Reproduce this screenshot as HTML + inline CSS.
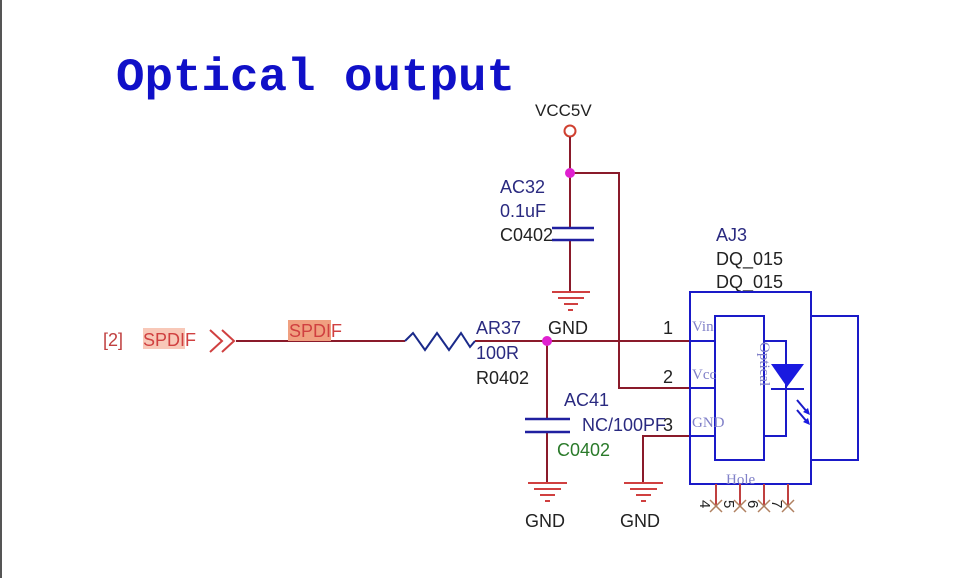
<!DOCTYPE html>
<html><head><meta charset="utf-8"><style>
html,body{margin:0;padding:0;background:#fff;}
svg{display:block;}
.s{font-family:"Liberation Sans",sans-serif;}
.m{font-family:"Liberation Mono",monospace;}
.r{font-family:"Liberation Serif",serif;}
</style></head><body>
<svg width="960" height="578" viewBox="0 0 960 578" xmlns="http://www.w3.org/2000/svg">
<rect width="960" height="578" fill="#fff"/>
<line x1="1" y1="0" x2="1" y2="578" stroke="#555" stroke-width="2"/>
<text class="m" x="116" y="90" font-weight="bold" font-size="46" fill="#1010c8" textLength="399" lengthAdjust="spacingAndGlyphs">Optical output</text>

<text class="s" x="535" y="116" font-size="17" fill="#222">VCC5V</text>
<circle cx="570" cy="131" r="5.5" fill="none" stroke="#d04030" stroke-width="2"/>
<g stroke="#8a1a2a" stroke-width="2" fill="none">
<line x1="570" y1="137" x2="570" y2="228"/>
<line x1="570" y1="240" x2="570" y2="292"/>
<polyline points="570,173 619,173 619,388 690,388"/>
<line x1="236" y1="341" x2="405" y2="341"/>
<line x1="475" y1="341" x2="690" y2="341"/>
<line x1="547" y1="341" x2="547" y2="419"/>
<line x1="547" y1="432" x2="547" y2="483"/>
<polyline points="690,436 643,436 643,483"/>
</g>
<g stroke="#d04040" stroke-width="2" fill="none">
<line x1="552" y1="292" x2="590" y2="292"/><line x1="558" y1="298" x2="584" y2="298"/><line x1="564" y1="304" x2="578" y2="304"/><line x1="568" y1="310" x2="573" y2="310"/>
<line x1="528" y1="483" x2="567" y2="483"/><line x1="534" y1="489" x2="561" y2="489"/><line x1="540" y1="495" x2="555" y2="495"/><line x1="545" y1="501" x2="550" y2="501"/>
<line x1="624" y1="483" x2="663" y2="483"/><line x1="630" y1="489" x2="657" y2="489"/><line x1="636" y1="495" x2="651" y2="495"/><line x1="641" y1="501" x2="646" y2="501"/>
<polyline points="210,330 222,341 210,352"/><polyline points="222,330 234,341 222,352"/>
</g>
<circle cx="570" cy="173" r="5" fill="#e020d0"/>
<circle cx="547" cy="341" r="5" fill="#e020d0"/>
<g stroke="#2020a0" stroke-width="2.5">
<line x1="552" y1="228" x2="594" y2="228"/><line x1="552" y1="240" x2="594" y2="240"/>
<line x1="525" y1="419" x2="570" y2="419"/><line x1="525" y1="432" x2="570" y2="432"/>
</g>
<polyline points="405,341 413,333 425,350 437,333 449,350 461,333 470,347 475,341" fill="none" stroke="#1a2a8a" stroke-width="2"/>

<g class="s" font-size="18">
<text x="500" y="193" fill="#2a2a80">AC32</text>
<text x="500" y="217" fill="#2a2a80">0.1uF</text>
<text x="500" y="241" fill="#222">C0402</text>
<text x="548" y="334" fill="#222">GND</text>
<text x="476" y="334" fill="#2a2a80">AR37</text>
<text x="476" y="359" fill="#2a2a80">100R</text>
<text x="476" y="384" fill="#222">R0402</text>
<text x="564" y="406" fill="#2a2a80">AC41</text>
<text x="582" y="431" fill="#2a2a80">NC/100PF</text>
<text x="557" y="456" fill="#2a7a2a">C0402</text>
<text x="525" y="527" fill="#222">GND</text>
<text x="620" y="527" fill="#222">GND</text>
<text x="716" y="241" fill="#2a2a80">AJ3</text>
<text x="716" y="265" fill="#222">DQ_015</text>
<text x="716" y="288" fill="#222">DQ_015</text>
<text x="663" y="334" fill="#222">1</text>
<text x="663" y="383" fill="#222">2</text>
<text x="663" y="431" fill="#222">3</text>
<text x="103" y="346" fill="#c04040">[2]</text>
<rect x="143" y="328" width="42" height="21" fill="#f8c8b8"/>
<text x="143" y="346" fill="#d04040">SPDIF</text>
<rect x="288" y="320" width="43" height="21" fill="#f0a080"/>
<text x="289" y="337" fill="#d04040">SPDIF</text>
</g>

<g stroke="#1a1ac8" stroke-width="2" fill="none">
<rect x="690" y="292" width="121" height="192"/>
<rect x="715" y="316" width="49" height="144"/>
<rect x="811" y="316" width="47" height="144"/>
<line x1="690" y1="341" x2="715" y2="341"/><line x1="690" y1="388" x2="715" y2="388"/><line x1="690" y1="436" x2="715" y2="436"/>
<polyline points="764,341 786,341 786,436 764,436"/>
<line x1="771" y1="389" x2="804" y2="389"/>
<line x1="797" y1="400" x2="808" y2="413"/><line x1="797" y1="410" x2="808" y2="423"/>
</g>
<polygon points="771,364 804,364 787,387" fill="#1a1ae0"/>
<polygon points="810,415 803,412 808,408" fill="#1a1ae0"/>
<polygon points="810,425 803,422 808,418" fill="#1a1ae0"/>
<g class="r" font-size="15" fill="#8080c8">
<text x="692" y="331">Vin</text><text x="692" y="379">Vcc</text><text x="692" y="427">GND</text>
<text x="726" y="484">Hole</text>
<text x="760" y="342" transform="rotate(90 760 342)">Optical</text>
</g>
<g stroke="#c04040" stroke-width="2">
<line x1="716" y1="484" x2="716" y2="505"/><line x1="740" y1="484" x2="740" y2="505"/><line x1="764" y1="484" x2="764" y2="505"/><line x1="788" y1="484" x2="788" y2="505"/>
</g>
<g stroke="#b08060" stroke-width="1.5">
<line x1="710" y1="500" x2="722" y2="512"/><line x1="722" y1="500" x2="710" y2="512"/>
<line x1="734" y1="500" x2="746" y2="512"/><line x1="746" y1="500" x2="734" y2="512"/>
<line x1="758" y1="500" x2="770" y2="512"/><line x1="770" y1="500" x2="758" y2="512"/>
<line x1="782" y1="500" x2="794" y2="512"/><line x1="794" y1="500" x2="782" y2="512"/>
</g>
<g class="s" font-size="15" fill="#222">
<text x="700" y="500" transform="rotate(90 700 500)">4</text>
<text x="724" y="500" transform="rotate(90 724 500)">5</text>
<text x="748" y="500" transform="rotate(90 748 500)">6</text>
<text x="772" y="500" transform="rotate(90 772 500)">7</text>
</g>
</svg>
</body></html>
